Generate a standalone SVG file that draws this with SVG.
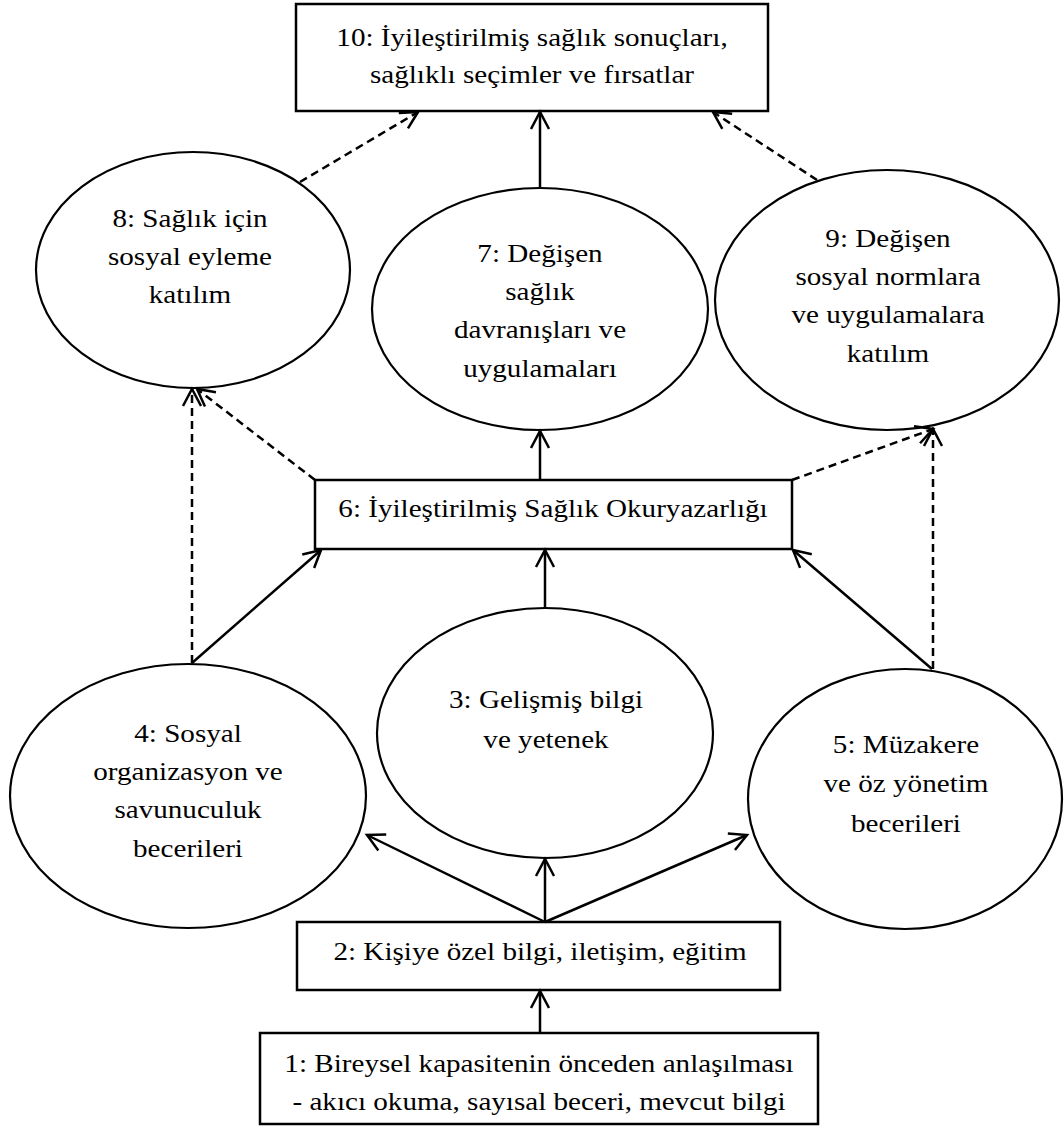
<svg xmlns="http://www.w3.org/2000/svg" width="1064" height="1126" viewBox="0 0 1064 1126">
  <style>
    .box { fill: #fff; stroke: #000; stroke-width: 2.5; }
    .ell { fill: #fff; stroke: #000; stroke-width: 2.2; }
    .t { font-family: "Liberation Serif", "Times New Roman", serif; font-size: 26px; fill: #000; text-anchor: middle; }
    .c { fill: none; stroke: #000; stroke-width: 2.5; marker-end: url(#arr); }
    .d { stroke-dasharray: 8 5; }
  </style>
  <defs>
    <marker id="arr" markerUnits="userSpaceOnUse" markerWidth="40" markerHeight="40" viewBox="-20 -20 40 40" refX="0" refY="0" orient="auto" overflow="visible">
      <path d="M-17,-9 L0,0 L-17,9" fill="none" stroke="#000" stroke-width="2.5" stroke-linejoin="miter"/>
    </marker>
  </defs>
  <rect width="1064" height="1126" fill="#fff"/>

  <g id="n10">
    <rect class="box" x="296" y="4" width="472" height="107"/>
    <text class="t" transform="translate(532,0) scale(1.12,1)"><tspan x="0" y="46">10: İyileştirilmiş sağlık sonuçları,</tspan><tspan x="0" y="83">sağlıklı seçimler ve fırsatlar</tspan></text>
  </g>
  <g id="n8">
    <ellipse class="ell" cx="193" cy="270" rx="157" ry="118"/>
    <text class="t" transform="translate(190,0) scale(1.12,1)"><tspan x="0" y="227">8: Sağlık için</tspan><tspan x="0" y="265">sosyal eyleme</tspan><tspan x="0" y="303">katılım</tspan></text>
  </g>
  <g id="n7">
    <ellipse class="ell" cx="540" cy="309" rx="168" ry="121"/>
    <text class="t" transform="translate(540,0) scale(1.12,1)"><tspan x="0" y="262">7: Değişen</tspan><tspan x="0" y="300">sağlık</tspan><tspan x="0" y="338">davranışları ve</tspan><tspan x="0" y="377">uygulamaları</tspan></text>
  </g>
  <g id="n9">
    <ellipse class="ell" cx="887" cy="300" rx="172" ry="130"/>
    <text class="t" transform="translate(888,0) scale(1.12,1)"><tspan x="0" y="247">9: Değişen</tspan><tspan x="0" y="285">sosyal normlara</tspan><tspan x="0" y="323">ve uygulamalara</tspan><tspan x="0" y="362">katılım</tspan></text>
  </g>
  <g id="n6">
    <rect class="box" x="315" y="480" width="477" height="69"/>
    <text class="t" transform="translate(553,0) scale(1.12,1)"><tspan x="0" y="517">6: İyileştirilmiş Sağlık Okuryazarlığı</tspan></text>
  </g>
  <g id="n4">
    <ellipse class="ell" cx="188" cy="796" rx="178" ry="132"/>
    <text class="t" transform="translate(188,0) scale(1.12,1)"><tspan x="0" y="742">4: Sosyal</tspan><tspan x="0" y="780">organizasyon ve</tspan><tspan x="0" y="818">savunuculuk</tspan><tspan x="0" y="857">becerileri</tspan></text>
  </g>
  <g id="n3">
    <ellipse class="ell" cx="545" cy="733" rx="168" ry="125"/>
    <text class="t" transform="translate(546,0) scale(1.12,1)"><tspan x="0" y="708">3: Gelişmiş bilgi</tspan><tspan x="0" y="748">ve yetenek</tspan></text>
  </g>
  <g id="n5">
    <ellipse class="ell" cx="905" cy="799" rx="157" ry="130"/>
    <text class="t" transform="translate(906,0) scale(1.12,1)"><tspan x="0" y="753">5: Müzakere</tspan><tspan x="0" y="792">ve öz yönetim</tspan><tspan x="0" y="832">becerileri</tspan></text>
  </g>
  <g id="n2">
    <rect class="box" x="297" y="922" width="483" height="68"/>
    <text class="t" transform="translate(540,0) scale(1.12,1)"><tspan x="0" y="960">2: Kişiye özel bilgi, iletişim, eğitim</tspan></text>
  </g>
  <g id="n1">
    <rect class="box" x="260" y="1033" width="558" height="91"/>
    <text class="t" transform="translate(539,0) scale(1.12,1)"><tspan x="0" y="1072">1: Bireysel kapasitenin önceden anlaşılması</tspan><tspan x="0" y="1110">- akıcı okuma, sayısal beceri, mevcut bilgi</tspan></text>
  </g>

  <g id="connectors">
    <path class="c" d="M540,1033 L540,991"/>
    <path class="c" d="M545,922 L367,835"/>
    <path class="c" d="M545,922 L545,859"/>
    <path class="c" d="M545,922 L747,835"/>
    <path class="c" d="M192,663 L321,550"/>
    <path class="c" d="M545,608 L545,550"/>
    <path class="c" d="M932,669 L793,550"/>
    <path class="c" d="M540,480 L540,431"/>
    <path class="c" d="M540,188 L540,112"/>
    <path class="c d" d="M192,663 L192,389"/>
    <path class="c d" d="M315,480 L197,389"/>
    <path class="c d" d="M933,669 L933,429"/>
    <path class="c d" d="M792,480 L933,429"/>
    <path class="c d" d="M300,182 L418,112"/>
    <path class="c d" d="M817,180 L713,112"/>
  </g>
</svg>
